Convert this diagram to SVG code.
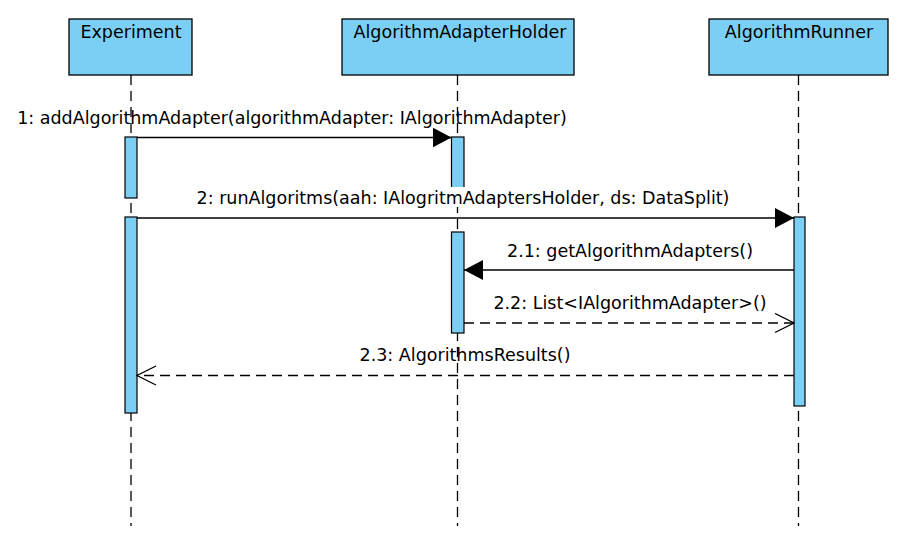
<svg xmlns="http://www.w3.org/2000/svg" width="907" height="542" viewBox="0 0 907 542">
<defs>
<style>
.hdr{fill:#7ccff4;stroke:#000;stroke-width:1.3}
.act{fill:#7ccff4;stroke:#000;stroke-width:1.2}
.life{stroke:#000;stroke-width:1.3;stroke-dasharray:10 6;fill:none}
.msg{stroke:#000;stroke-width:1.3;fill:none}
.ret{stroke:#000;stroke-width:1.3;fill:none;stroke-dasharray:10 6}
text{font-family:"DejaVu Sans","Noto Sans",sans-serif;font-size:17.5px;fill:#000}
.c{text-anchor:middle}
</style>
<marker id="fill" viewBox="0 0 19 20" refX="19" refY="10" markerWidth="19" markerHeight="20" markerUnits="userSpaceOnUse" orient="auto">
<path d="M0,0 L19,10 L0,20 Z" fill="#000"/>
</marker>
<marker id="open" viewBox="0 0 21 21" refX="20" refY="10.5" markerWidth="21" markerHeight="21" markerUnits="userSpaceOnUse" orient="auto">
<path d="M1,1 L20,10.5 L1,20" fill="none" stroke="#000" stroke-width="1.3"/>
</marker>
</defs>
<rect width="907" height="542" fill="#fff"/>
<g id="lifelines">
<line class="life" x1="131" y1="75" x2="131" y2="526"/>
<line class="life" x1="457.5" y1="75" x2="457.5" y2="526"/>
<line class="life" x1="798.5" y1="75" x2="798.5" y2="526"/>
</g>
<g id="Experiment">
<rect class="hdr" x="69" y="19" width="123" height="56"/>
<text class="c" x="131" y="38">Experiment</text>
<rect class="act" x="125" y="137" width="12" height="61"/>
<rect class="act" x="125" y="217" width="12" height="196"/>
</g>
<g id="AlgorithmAdapterHolder">
<rect class="hdr" x="342" y="19" width="232" height="56"/>
<text class="c" x="460" y="38">AlgorithmAdapterHolder</text>
<rect class="act" x="451.5" y="137" width="12.5" height="61"/>
<rect class="act" x="451.5" y="232" width="12.5" height="101"/>
</g>
<g id="AlgorithmRunner">
<rect class="hdr" x="709" y="19" width="179" height="56"/>
<text class="c" x="799" y="38">AlgorithmRunner</text>
<rect class="act" x="794" y="217" width="11" height="189"/>
</g>
<g id="connectors">
<line class="msg" x1="137" y1="137.5" x2="451.5" y2="137.5" marker-end="url(#fill)"/>
<rect x="192" y="187" width="545" height="20" fill="#fff"/>
<line class="msg" x1="137" y1="218" x2="794" y2="218" marker-end="url(#fill)"/>
<line class="msg" x1="794" y1="270" x2="464" y2="270" marker-end="url(#fill)"/>
<line class="ret" x1="464" y1="323" x2="794" y2="323" marker-end="url(#open)"/>
<line class="ret" x1="794" y1="375.5" x2="137" y2="375.5" marker-end="url(#open)"/>
</g>
<g id="labels">
<text class="c" x="292" y="124">1: addAlgorithmAdapter(algorithmAdapter: IAlgorithmAdapter)</text>
<text class="c" x="463" y="204">2: runAlgoritms(aah: IAlogritmAdaptersHolder, ds: DataSplit)</text>
<text class="c" x="630" y="257">2.1: getAlgorithmAdapters()</text>
<text class="c" x="630" y="309">2.2: List&lt;IAlgorithmAdapter&gt;()</text>
<text class="c" x="465" y="361">2.3: AlgorithmsResults()</text>
</g>
</svg>
